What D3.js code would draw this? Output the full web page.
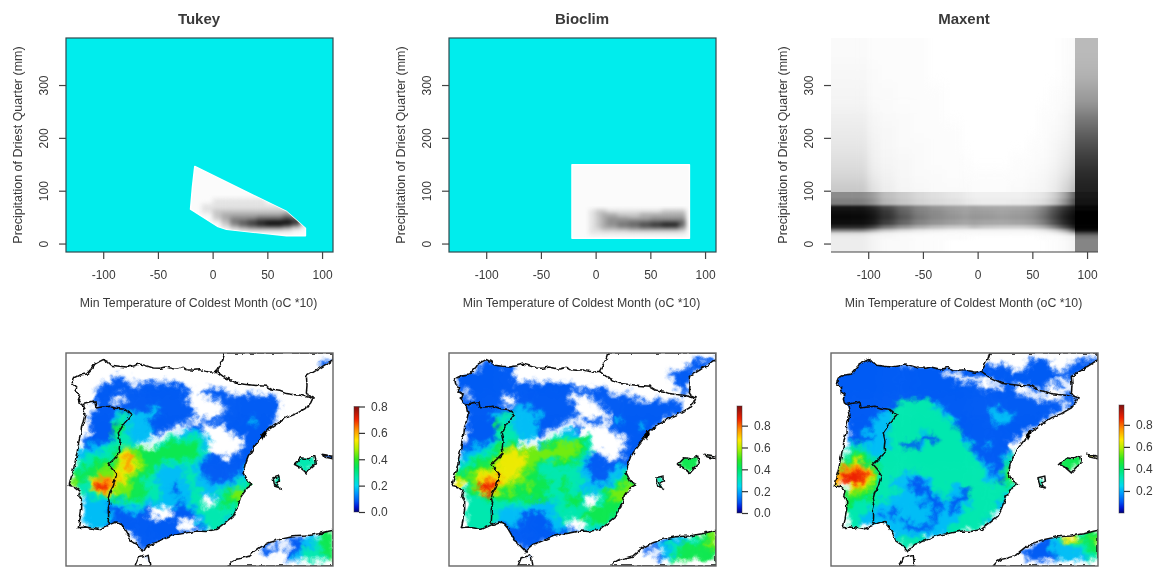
<!DOCTYPE html>
<html>
<head>
<meta charset="utf-8">
<script src="https://d3js.org/d3.v7.min.js"></script>
<style>
  html, body { margin: 0; background: #fff; }
  svg { display: block; filter: blur(0.35px); }
  text { font-family: "Liberation Sans", Arial, sans-serif; fill: #3a3a3a; }
</style>
</head>
<body>
<div id="chart"></div>
<script>

// ---- response surfaces (top row) ----
var xLabel = "Min Temperature of Coldest Month (oC *10)";
var yLabel = "Precipitation of Driest Quarter (mm)";
var xTicks = [-100, -50, 0, 50, 100];
var yTicks = [0, 100, 200, 300];
var titles = ["Tukey", "Bioclim", "Maxent"];

// darkness 0 (white) to 9 (black) per cell, rows from high to low precipitation
var tukeyXEdges = [-22, -10, 0, 8, 16, 24, 32, 40, 48, 56, 64, 72, 80, 86];
var tukeyYEdges = [150, 100, 85, 75, 65, 58, 52, 46, 42, 38, 34, 30, 26, 22, 10];
var tukeyGrid = [
  "0000000000000",
  "0000000000000",
  "0011111100000",
  "0111111111000",
  "0122222222210",
  "0023333333430",
  "0023444555651",
  "0013556777872",
  "0002567899982",
  "0002467899861",
  "0001345666531",
  "0000123333210",
  "0000011111100",
  "0000000000000"
];
var tukeyHull = [[-16.3, 146], [67.5, 60.6], [84.8, 29], [84.8, 14.6], [67.5, 14.6], [12.7, 27], [5, 32], [-20.2, 65], [-18.4, 108]];

var bioclimXEdges = [-22, -6, 0, 5, 10, 20, 30, 40, 50, 60, 70, 76, 82, 86];
var bioclimYEdges = [150, 100, 70, 65, 58, 50, 45, 40, 36, 32, 28, 24, 18, 10];
var bioclimGrid = [
  "0000000000000",
  "0000000000000",
  "0000000000000",
  "0122111112220",
  "0123322333330",
  "0123443344440",
  "0123445555550",
  "0123455678860",
  "0123456789950",
  "0123344555540",
  "0112223333320",
  "0111111111110",
  "0000000000000"
];
var bioclimHull = [[-21.6, 149], [85.7, 149], [85.7, 10.2], [-21.6, 10.2]];

// maxent surface covers the whole plot, darkness in percent
var maxentXEdges = [-134, -110, -100, -90, -75, -60, -45, -30, -15, -7, 0, 15, 30, 45, 55, 65, 75, 85, 89, 110];
var maxentYEdges = [390, 340, 300, 260, 230, 200, 170, 140, 115, 98, 85, 72, 65, 55, 45, 35, 28, 22, 16, 8, -16];
var maxentGrid = [
  [2, 2, 1, 1, 1, 1, 0, 0, 0, 0, 0, 0, 0, 0, 0, 0, 1, 2, 27],
  [3, 3, 2, 1, 1, 1, 0, 0, 0, 0, 0, 0, 0, 0, 0, 0, 1, 3, 30],
  [4, 4, 2, 2, 1, 1, 1, 0, 0, 0, 0, 0, 0, 0, 0, 1, 2, 4, 38],
  [6, 6, 3, 2, 2, 1, 1, 0, 0, 0, 0, 0, 0, 0, 1, 1, 3, 6, 50],
  [8, 8, 4, 3, 2, 1, 1, 1, 0, 0, 0, 0, 0, 0, 1, 2, 4, 8, 60],
  [10, 10, 5, 3, 2, 2, 1, 1, 0, 0, 0, 0, 0, 1, 1, 3, 6, 10, 70],
  [13, 13, 6, 4, 3, 2, 1, 1, 1, 0, 0, 0, 1, 1, 2, 4, 8, 14, 78],
  [16, 16, 8, 5, 3, 2, 2, 1, 1, 1, 1, 1, 1, 2, 3, 6, 11, 20, 84],
  [22, 22, 12, 7, 4, 3, 2, 2, 2, 1, 1, 1, 2, 3, 4, 8, 16, 30, 88],
  [45, 45, 38, 25, 20, 15, 12, 10, 8, 6, 6, 6, 6, 8, 10, 18, 35, 65, 90],
  [50, 50, 42, 28, 22, 17, 14, 12, 10, 8, 7, 7, 8, 10, 13, 22, 42, 72, 92],
  [92, 92, 85, 72, 58, 48, 42, 38, 35, 38, 35, 34, 35, 38, 48, 65, 80, 92, 98],
  [95, 95, 90, 78, 62, 50, 45, 40, 36, 40, 38, 36, 38, 42, 52, 70, 85, 95, 100],
  [97, 97, 92, 80, 65, 52, 46, 42, 38, 42, 40, 38, 40, 44, 55, 72, 88, 97, 100],
  [95, 95, 90, 75, 60, 48, 42, 38, 34, 38, 35, 34, 36, 40, 50, 68, 85, 96, 100],
  [85, 85, 75, 55, 42, 32, 26, 22, 20, 28, 22, 20, 20, 24, 32, 50, 72, 92, 100],
  [50, 50, 35, 22, 15, 10, 8, 6, 5, 5, 5, 5, 5, 6, 10, 18, 35, 70, 95],
  [15, 15, 10, 6, 4, 3, 2, 2, 2, 2, 2, 2, 2, 2, 3, 5, 12, 30, 70],
  [8, 8, 4, 3, 2, 1, 1, 1, 1, 0, 0, 0, 0, 0, 1, 1, 3, 8, 52],
  [7, 7, 4, 2, 2, 1, 1, 0, 0, 0, 0, 0, 0, 0, 0, 1, 2, 6, 48]
];

// ---- prediction maps (bottom row) ----
// one character per raster cell, "." = no prediction, digit = level, level * levelStep = suitability
var tukeyMap = [
  "",
  "..... ..... ..... ..... ..... ..... ..... ..... ...11",
  "",
  "",
  "..... ...11",
  "..... .1111 1.111 11111",
  "..... 11111 11111 11111 1..11 11",
  "..... 111.. 11111 11111 ....1 11111 11111",
  "..... 111.1 11111 11111 1.... .1111 11111 1",
  "..... 11111 11112 21111 1.... ..111 11111 1",
  "....1 11123 32222 11111 11... .1111 11111",
  "....1 11133 22221 11111 1..11 11111 12111",
  "....1 11144 32221 111.. .11.. ..111 11111",
  "....1 11143 22222 1...2 222.. ...11 11111",
  "...11 11133 3222. ..333 3332. ..... 11111",
  "...12 12333 33... 33444 4432. ..... 11111",
  "..222 23346 65444 44444 4433. ....1 1111. ..... ...11",
  "..233 33346 75544 44444 44321 1..11 111.. ...33 33.11",
  "..333 44456 76544 43333 33211 11111 11... ...33 33",
  ".3344 45556 76544 32222 32211 11111 2.... ....3 33",
  ".4444 55566 65443 22222 33211 11112 2.... 33",
  ".5436 77776 54433 22222 33221 11123 23... 33",
  ".5336 88765 54433 32212 23222 22233 34... 33",
  "..333 67655 54443 32212 23322 33455 44",
  "...23 33343 44433 32222 233.. 23455 4",
  "...22 22222 33322 22221 233.. 34444 3",
  "...22 22111 2221. ...11 12333 33333",
  "...22 22211 1111. ...11 11233 33322",
  "...22 22211 11111 1111. ..233 3322",
  "....2 22111 11111 1111. ..123 3222",
  "..... ..... .1111 11111 11... ..... ..... ..... ...44",
  "..... ..... ..111 11111 ..... ..... ..... ..111 22344",
  "..... ..... ..111 1.... ..... ..... ...1. 1..11 22344",
  "..... ..... ...11 ..... ..... ..... ...11 ..112 33344",
  "..... ..... ..... ..... ..... ..... ..... ..122 33334",
  ""
];
var bioclimMap = [
  "",
  "..... .11.. ..... ..... ..... ..... ..... ..... .1111",
  "..... 11111 1.... ..... ..... ..... ..... ..... 111",
  "..111 11111 1.... ..... ..... ..... ..... ..111 1",
  ".1111 11111 1.... ..... ..... ..... ..... ...11 1",
  ".1111 11111 11111 11111 1.... ..... ..... ...11",
  ".1.11 11111 11111 11111 11111 11... ..... ....1",
  "..1.1 1111. .1111 11111 ....1 11111 1",
  "..111 1111. .1111 11111 1.... 11111 11111 1111.",
  "..111 11111 12221 11111 1.... .1111 11111 1111.",
  "...11 11223 32222 21111 11... ..111 11111 111",
  "...11 11133 22222 11111 ...11 1.121 11111 1",
  "...11 11143 32222 111.. .1... ..111 11211",
  "...11 11133 32222 1...2 22... ...11 11111",
  "...11 11133 3322. ..333 3343. ..... 11111",
  "..112 12343 44... 24455 5543. ..... 1111.",
  "..122 23345 66555 55555 5543. ....1 1111. ..... ...44",
  "..223 33456 66655 55555 54321 1...1 111.. ...44 44",
  ".2334 44566 66655 43344 43211 11111 12... ...44 44",
  ".3344 55566 66554 33333 33211 11122 2.... ....4 44",
  ".4455 66666 66544 33333 33221 11223 4",
  ".6545 67776 65544 44334 33321 11234 44... 33",
  ".6.35 88865 54454 44334 33222 22345 5.... 33",
  "..344 68654 54454 43334 33232 34555 5",
  "...33 34444 44444 44333 443.. 34555 4",
  "...33 33333 33332 22233 443.. 34444",
  "...33 33332 22222 22233 33344 44443",
  "...33 33322 22111 12233 33444 44432",
  "...33 33322 22111 11223 ...34 44322",
  "...33 33.11 11111 11222 ...33 33211",
  "..... ..... 11111 11111 11222 22... ..... ..... ...45",
  "..... ..... 11111 111.. ..... ..... ..... .1222 33445",
  "..... ..... ..111 1.... ..... ..... ....1 22334 44455",
  "..... ..... ...11 ..... ..... ..... ...1. .2234 44444",
  "..... ..... ..... ..... ..... ..... ..... 12344 44444",
  ""
];
var maxentMap = [
  "",
  ".1111 11111 ..... ..... ..... ..... ...11 11... .1111",
  "11111 11111 11111 11111 11111 11111 ...11 11... 1111.",
  "11111 11111 11111 1111. ..111 11111 11111 11111 11",
  "11111 11111 11111 11111 1.... ..111 11111 111.. 1",
  "11111 11111 11111 11111 11111 ....1 1..11 1..1.",
  "11111 11111 11111 11111 11111 11111 1.... 1.... 1",
  ".1111 11111 11111 11111 11111 11111 1111. ....1 1",
  ".1111 11111 13333 33211 11111 11111 11111 1111. 11",
  "..111 11111 13333 33321 11111 11211 11111 1111. 1",
  "..111 11122 33333 33332 11111 11222 21111 11",
  "...11 11222 33333 33333 21111 11222 11111 1",
  "...11 11222 33333 33333 31111 11111 11111",
  "...11 22222 33333 23333 33111 11111 11",
  "...11 11222 33333 11133 33211 11111 1",
  "...23 22222 33111 23333 33321 12111",
  "...34 32223 33333 33333 33331 11111 ..... ..... ...66",
  "..345 43233 33333 33333 33332 11112 3.... ....4 444",
  "..456 44333 33333 33333 33333 21113 3.... ...44 44",
  ".5777 76433 33333 33333 33333 32113 5.... ....4 4",
  "67888 87533 33222 33333 33333 32124 5",
  "77888 76533 22211 22333 33333 32214 4.... 3",
  "6..67 65433 22211 12333 22333 33333 3.... 3",
  "..455 54333 33221 11233 22133 33333 3",
  "..444 44333 22222 21123 21133 33332",
  "..443 33322 22222 12112 11223 33322",
  "..433 32222 12222 22122 12333 33322",
  "...33 22212 12222 22122 22333 33",
  "...33 22222 22122 22122 23333 322",
  "...33 ..222 22211 11222 33333",
  "..... ..... 22222 22222 33... ..... ..... ..... ..344",
  "..... ..... 23333 3.... ..... ..... ..... 11236 65445",
  "..... ..... ..333 ..... ..... ..... ....1 11222 33344",
  "..... ..... ..... ..... ..... ..... ..111 11222 22334",
  "..... ..... ..... ..... ..... ..... ...11 11122 22233",
  ""
];
var mapLevelSteps = [0.088, 0.108, 0.108];
var legendDomains = [[0, 0.8], [0, 0.98], [0, 0.98]];
var legendTicks = [[0, 0.2, 0.4, 0.6, 0.8], [0, 0.2, 0.4, 0.6, 0.8], [0.2, 0.4, 0.6, 0.8]];

// outlines, in map units (0-802 across, 0-640 down)
var mainland = [[477, 0], [470, 22], [460, 40], [452, 55], [432, 58], [412, 53], [402, 50], [385, 52], [362, 50], [352, 43], [335, 48], [322, 47], [300, 42], [285, 46], [262, 45], [240, 38], [222, 33], [205, 38], [182, 42], [160, 40], [137, 37], [125, 26], [112, 20], [100, 26], [87, 33], [80, 44], [74, 50], [62, 63], [40, 66], [22, 75], [18, 84], [20, 93], [32, 105], [27, 115], [42, 125], [37, 138], [40, 150], [47, 155], [52, 160], [57, 185], [52, 205], [47, 220], [45, 240], [40, 260], [34, 295], [27, 330], [20, 360], [12, 385], [10, 398], [26, 402], [42, 415], [38, 430], [47, 445], [47, 470], [42, 500], [37, 525], [60, 523], [97, 530], [115, 522], [132, 515], [150, 508], [162, 510], [175, 525], [187, 545], [195, 565], [210, 575], [232, 598], [240, 585], [252, 575], [272, 568], [292, 560], [315, 550], [337, 545], [365, 540], [392, 535], [420, 536], [452, 530], [475, 512], [502, 490], [508, 478], [512, 470], [520, 450], [527, 430], [545, 405], [562, 395], [545, 385], [532, 360], [538, 335], [547, 310], [565, 282], [582, 260], [592, 245], [602, 235], [630, 215], [662, 195], [692, 182], [722, 165], [735, 150], [742, 135], [728, 128], [722, 120], [724, 95], [722, 70], [752, 52], [787, 30], [802, 20], [802, 0]];
var morocco = [[487, 640], [498, 628], [512, 620], [530, 616], [552, 610], [568, 596], [582, 585], [610, 570], [642, 560], [680, 552], [722, 550], [760, 543], [792, 535], [802, 533], [802, 640]];
var ceuta = [[207, 640], [217, 615], [232, 612], [247, 608], [252, 640]];
var mallorca = [[687, 335], [697, 325], [707, 315], [727, 318], [747, 310], [752, 330], [735, 345], [722, 360], [705, 345]];
var menorca = [[770, 305], [802, 310], [802, 318], [775, 312]];
var ibiza = [[622, 375], [642, 370], [644, 385], [632, 390], [642, 405], [627, 400]];
var ebroDelta = [[587, 247], [597, 236], [601, 241], [592, 258]];
var portugalBorder = [[50, 155], [70, 150], [87, 147], [90, 165], [110, 162], [132, 160], [155, 167], [177, 170], [197, 185], [185, 200], [172, 215], [165, 228], [157, 240], [162, 262], [160, 285], [162, 300], [145, 318], [127, 335], [140, 350], [152, 365], [147, 382], [142, 400], [132, 418], [127, 435], [131, 452], [127, 470], [128, 490], [127, 510], [132, 515]];
var pyreneesBorder = [[452, 55], [472, 70], [492, 80], [515, 92], [542, 95], [572, 98], [602, 100], [622, 112], [642, 115], [662, 122], [682, 125], [710, 128], [737, 135]];

// colour ramp of the maps, position along the legend 0-1
var rampStops = [0, 0.05, 0.1, 0.17, 0.25, 0.33, 0.42, 0.5, 0.6, 0.68, 0.78, 0.88, 1];
var rampColors = ["#00007a", "#0018d8", "#0052f2", "#0090ff", "#00d8f0", "#00e8b0", "#00e860", "#30e820", "#b0f000", "#ffe800", "#ff9000", "#f02000", "#801010"];

// ---- layout ----
var width = 1161, height = 567;
var panelX = [66, 449, 831];
var panelW = 267;
var topY = 38, topH = 214;
var mapY = 353, mapH = 213;
var legendX = [354, 737, 1119];
var legendW = 5;
var legendY = [[512, 406.5], [513, 406], [513, 405]];

var svg = d3.select("#chart").append("svg")
    .attr("width", width)
    .attr("height", height);

var defs = svg.append("defs");

function blurFilter(id, std) {
  defs.append("filter").attr("id", id)
      .attr("x", "-10%").attr("y", "-10%").attr("width", "120%").attr("height", "120%")
      .attr("color-interpolation-filters", "sRGB")
    .append("feGaussianBlur").attr("stdDeviation", std);
}
blurFilter("soft", 2);
blurFilter("surfUpperLeft", "3.5 7");
blurFilter("surfUpperRight", "0 8");
blurFilter("surfLowerLeft", "4 0.9");
blurFilter("surfLowerRight", "0 1");

// blur plus a little wobble so raster cells read as rough map patches
var mapFilter = defs.append("filter").attr("id", "mapsoft")
    .attr("x", "-5%").attr("y", "-5%").attr("width", "110%").attr("height", "110%")
    .attr("color-interpolation-filters", "sRGB");
mapFilter.append("feGaussianBlur").attr("in", "SourceGraphic").attr("stdDeviation", 2.2).attr("result", "b");
mapFilter.append("feTurbulence").attr("type", "fractalNoise").attr("baseFrequency", 0.13).attr("numOctaves", 2).attr("seed", 4).attr("result", "n");
mapFilter.append("feDisplacementMap").attr("in", "b").attr("in2", "n").attr("scale", 13)
    .attr("xChannelSelector", "R").attr("yChannelSelector", "G").attr("result", "d");
mapFilter.append("feGaussianBlur").attr("in", "d").attr("stdDeviation", 0.6);

var lineFilter = defs.append("filter").attr("id", "jagged")
    .attr("x", "-2%").attr("y", "-2%").attr("width", "104%").attr("height", "104%");
lineFilter.append("feTurbulence").attr("type", "fractalNoise").attr("baseFrequency", 0.18).attr("numOctaves", 2).attr("seed", 9).attr("result", "n");
lineFilter.append("feDisplacementMap").attr("in", "SourceGraphic").attr("in2", "n").attr("scale", 4)
    .attr("xChannelSelector", "R").attr("yChannelSelector", "G");

var grad = defs.append("linearGradient").attr("id", "ramp")
    .attr("x1", 0).attr("x2", 0).attr("y1", 1).attr("y2", 0);
grad.selectAll("stop").data(rampStops).enter().append("stop")
    .attr("offset", function(d) { return d; })
    .attr("stop-color", function(d, i) { return rampColors[i]; });

var line = d3.line();

function gridCells(grid, xEdges, yEdges) {
  var cells = [];
  grid.forEach(function(row, r) {
    for (var c = 0; c < xEdges.length - 1; c++) {
      cells.push({
        x0: xEdges[c], x1: xEdges[c + 1],
        y0: yEdges[r], y1: yEdges[r + 1],
        dark: typeof row === "string" ? +row[c] * 11 : row[c]
      });
    }
  });
  return cells;
}

function appendCells(parent, cells, x, y) {
  parent.selectAll("rect")
    .data(cells.filter(function(d) { return d.dark > 0; }))
    .enter().append("rect")
      .attr("x", function(d) { return x(d.x0); })
      .attr("y", function(d) { return y(d.y0); })
      .attr("width", function(d) { return x(d.x1) - x(d.x0) + 0.5; })
      .attr("height", function(d) { return y(d.y1) - y(d.y0) + 0.5; })
      .attr("fill", function(d) { var v = Math.round(255 * (1 - d.dark / 100)); return "rgb(" + v + "," + v + "," + v + ")"; });
}

function drawSurface(i, cells, hull) {
  var x = d3.scaleLinear().domain([-134, 110]).range([panelX[i], panelX[i] + panelW]);
  var y = d3.scaleLinear().domain([-16, 389]).range([topY + topH, topY]);
  var g = svg.append("g");

  if (hull) {
    var clipId = "hull" + i;
    g.append("rect")
        .attr("x", panelX[i]).attr("y", topY)
        .attr("width", panelW).attr("height", topH)
        .attr("fill", "#00eded");
    var hullPath = line(hull.map(function(p) { return [x(p[0]), y(p[1])]; })) + "Z";
    defs.append("clipPath").attr("id", clipId).append("path").attr("d", hullPath);
    g.append("path")
        .attr("d", hullPath)
        .attr("fill", "#fbfbfb")
        .attr("stroke", "#ffffff")
        .attr("stroke-width", 1.5)
        .attr("stroke-linejoin", "round");
    appendCells(g.append("g").attr("clip-path", "url(#" + clipId + ")")
        .append("g").attr("filter", "url(#soft)"), cells, x, y);
    g.append("rect")
        .attr("x", panelX[i]).attr("y", topY)
        .attr("width", panelW).attr("height", topH)
        .attr("fill", "none")
        .attr("stroke", "#2f4a4f")
        .attr("stroke-width", 1.2);
  } else {
    // the maxent surface has hard edges at 89 and 98, so each side of them is blurred on its own.
    // cells touching a zone border are stretched past it so the blur does not fade out there
    var splitX = 89, splitY = 98;
    var zones = [
      { id: "UpperLeft", left: true, upper: true },
      { id: "UpperRight", left: false, upper: true },
      { id: "LowerLeft", left: true, upper: false },
      { id: "LowerRight", left: false, upper: false }
    ];
    zones.forEach(function(z) {
      var zoneCells = cells.filter(function(d) {
        return (z.left ? d.x1 <= splitX : d.x0 >= splitX) && (z.upper ? d.y1 >= splitY : d.y0 <= splitY);
      }).map(function(d) {
        return {
          x0: d.x0 === -134 ? -180 : (d.x0 === splitX ? 60 : d.x0),
          x1: d.x1 === 110 ? 150 : (d.x1 === splitX ? 120 : d.x1),
          y0: d.y0 === 390 ? 460 : (d.y0 === splitY ? 140 : d.y0),
          y1: d.y1 === -16 ? -50 : (d.y1 === splitY ? 60 : d.y1),
          dark: d.dark
        };
      });
      var left = z.left ? panelX[i] : Math.round(x(splitX));
      var right = z.left ? Math.round(x(splitX)) : panelX[i] + panelW;
      var top = z.upper ? topY : Math.round(y(splitY));
      var bottom = z.upper ? Math.round(y(splitY)) : topY + topH;
      defs.append("clipPath").attr("id", "zone" + z.id).append("rect")
          .attr("x", left).attr("y", top)
          .attr("width", right - left).attr("height", bottom - top);
      appendCells(g.append("g").attr("clip-path", "url(#zone" + z.id + ")")
          .append("g").attr("filter", "url(#surf" + z.id + ")"), zoneCells, x, y);
    });
    g.append("line")
        .attr("x1", panelX[i]).attr("x2", panelX[i] + panelW)
        .attr("y1", topY + topH).attr("y2", topY + topH)
        .attr("stroke", "#444")
        .attr("stroke-width", 1.2);
  }

  var xAxis = svg.append("g")
      .attr("transform", "translate(0," + (topY + topH) + ")")
      .call(d3.axisBottom(x).tickValues(xTicks).tickSize(7).tickPadding(11).tickFormat(String));
  var yAxis = svg.append("g")
      .attr("transform", "translate(" + panelX[i] + ",0)")
      .call(d3.axisLeft(y).tickValues(yTicks).tickSize(7).tickFormat(String));
  xAxis.select(".domain").remove();
  yAxis.select(".domain").remove();
  xAxis.selectAll("line").attr("stroke", "#444").attr("stroke-width", 1.2);
  yAxis.selectAll("line").attr("stroke", "#444").attr("stroke-width", 1.2);
  xAxis.selectAll("text").style("font-size", "12px").style("font-family", null);
  yAxis.selectAll("text").style("font-size", "12px").style("font-family", null)
      .attr("text-anchor", "middle")
      .attr("dy", 0)
      .attr("transform", "rotate(-90 -22 0)")
      .attr("x", -22).attr("y", 4);

  svg.append("text")
      .attr("x", panelX[i] + 133)
      .attr("y", 23.5)
      .attr("text-anchor", "middle")
      .style("font-size", "15px")
      .style("font-weight", "bold")
      .text(titles[i]);
  svg.append("text")
      .attr("x", panelX[i] + 132.5)
      .attr("y", 307)
      .attr("text-anchor", "middle")
      .style("font-size", "12.3px")
      .text(xLabel);
  svg.append("text")
      .attr("transform", "translate(" + (panelX[i] - 44.5) + "," + (topY + 107) + ") rotate(-90)")
      .attr("text-anchor", "middle")
      .style("font-size", "12.5px")
      .text(yLabel);
}

function drawMap(i, rows) {
  var px = d3.scaleLinear().domain([0, 802]).range([panelX[i], panelX[i] + panelW]);
  var py = d3.scaleLinear().domain([0, 640]).range([mapY, mapY + mapH]);
  var rowBand = d3.scaleBand().domain(d3.range(36)).range([mapY, mapY + mapH]);
  var colBand = d3.scaleBand().domain(d3.range(45)).range([panelX[i], panelX[i] + panelW]);

  var legendScale = d3.scaleLinear().domain(legendDomains[i]).range(legendY[i]);
  var span = legendDomains[i][1] - legendDomains[i][0];
  var color = d3.scaleLinear()
      .domain(rampStops.map(function(s) { return legendDomains[i][0] + s * span; }))
      .range(rampColors);

  var cells = [];
  rows.forEach(function(row, r) {
    row.replace(/ /g, "").split("").forEach(function(ch, c) {
      if (ch !== ".") cells.push({ r: r, c: c, value: +ch * mapLevelSteps[i] });
    });
  });

  var toPath = function(pts) {
    return line(pts.map(function(p) { return [px(p[0]), py(p[1])]; })) + "Z";
  };
  var landPath = [mainland, morocco, ceuta, mallorca, menorca, ibiza].map(toPath).join("");

  defs.append("clipPath").attr("id", "land" + i).append("path").attr("d", landPath);
  defs.append("clipPath").attr("id", "box" + i).append("rect")
      .attr("x", panelX[i]).attr("y", mapY).attr("width", panelW).attr("height", mapH);

  var g = svg.append("g");
  g.append("g")
      .attr("clip-path", "url(#land" + i + ")")
    .append("g")
      .attr("filter", "url(#mapsoft)")
    .selectAll("rect")
    .data(cells)
    .enter().append("rect")
      .attr("x", function(d) { return colBand(d.c); })
      .attr("y", function(d) { return rowBand(d.r); })
      .attr("width", colBand.bandwidth() + 0.5)
      .attr("height", rowBand.bandwidth() + 0.5)
      .attr("fill", function(d) { return color(d.value); });

  var outlines = g.append("g").attr("clip-path", "url(#box" + i + ")")
    .append("g").attr("filter", "url(#jagged)");
  outlines.append("path")
      .attr("d", landPath + toPath(ebroDelta))
      .attr("fill", "none")
      .attr("stroke", "#0a0a0a")
      .attr("stroke-width", 1.5);
  outlines.append("path")
      .attr("d", toPath(ebroDelta))
      .attr("fill", "#000");
  [portugalBorder, pyreneesBorder].forEach(function(b) {
    outlines.append("path")
        .attr("d", line(b.map(function(p) { return [px(p[0]), py(p[1])]; })))
        .attr("fill", "none")
        .attr("stroke", "#0a0a0a")
        .attr("stroke-width", 1.5);
  });

  g.append("rect")
      .attr("x", panelX[i]).attr("y", mapY)
      .attr("width", panelW).attr("height", mapH)
      .attr("fill", "none")
      .attr("stroke", "#666")
      .attr("stroke-width", 1.4);

  // legend
  svg.append("rect")
      .attr("x", legendX[i])
      .attr("y", legendY[i][1])
      .attr("width", legendW)
      .attr("height", legendY[i][0] - legendY[i][1])
      .attr("fill", "url(#ramp)")
      .attr("stroke", "#3a3a3a")
      .attr("stroke-width", 0.8)
      .attr("stroke-opacity", 0.6);
  var legendAxis = svg.append("g")
      .attr("transform", "translate(" + (legendX[i] + legendW) + ",0)")
      .call(d3.axisRight(legendScale).tickValues(legendTicks[i]).tickSize(6).tickPadding(6).tickFormat(d3.format(".1f")));
  legendAxis.select(".domain").remove();
  legendAxis.selectAll("line").attr("stroke", "#333").attr("stroke-width", 1.2);
  legendAxis.selectAll("text").style("font-size", "12px").style("font-family", null);
}

drawSurface(0, gridCells(tukeyGrid, tukeyXEdges, tukeyYEdges), tukeyHull);
drawSurface(1, gridCells(bioclimGrid, bioclimXEdges, bioclimYEdges), bioclimHull);
drawSurface(2, gridCells(maxentGrid, maxentXEdges, maxentYEdges), null);

drawMap(0, tukeyMap);
drawMap(1, bioclimMap);
drawMap(2, maxentMap);

</script>
</body>
</html>
